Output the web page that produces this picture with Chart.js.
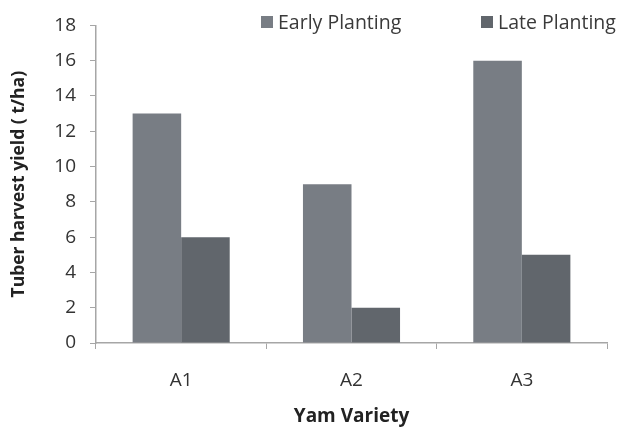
<!DOCTYPE html>
<html>
<head>
<meta charset="utf-8">
<script src="https://cdn.jsdelivr.net/npm/chart.js@4/dist/chart.umd.min.js"></script>
<style>
  html, body { margin: 0; padding: 0; background: #fff; }
  #wrap { width: 623px; height: 428px; }
</style>
</head>
<body>
<div id="wrap"><canvas id="c" width="623" height="428"></canvas></div>
<script>
// Yam varieties and tuber yields (t/ha) for each planting date
const varieties = ['A1', 'A2', 'A3'];
const earlyPlanting = [13, 9, 16];
const latePlanting = [6, 2, 5];
const seriesNames = ['Early Planting', 'Late Planting'];

const FONT = '"Open Sans", Lato, sans-serif';
const AXIS_GREY = '#a6a6a6';

// Legend drawn across the top-right, above the bars
const topLegend = {
  id: 'topLegend',
  afterDraw(chart) {
    const ctx = chart.ctx;
    const spots = [261, 481];
    ctx.save();
    ctx.font = '19.5px ' + FONT;
    ctx.textBaseline = 'middle';
    chart.data.datasets.forEach((ds, i) => {
      const x = spots[i];
      const y = 22;
      ctx.fillStyle = ds.backgroundColor;
      ctx.fillRect(x, y - 6, 12, 12);
      ctx.fillStyle = '#3a3a3a';
      ctx.fillText(ds.label, x + 17, y + 1);
    });
    ctx.restore();
  }
};

new Chart(document.getElementById('c'), {
  type: 'bar',
  data: {
    labels: varieties,
    datasets: [
      { label: seriesNames[0], data: earlyPlanting, backgroundColor: '#787d84' },
      { label: seriesNames[1], data: latePlanting, backgroundColor: '#61666c' }
    ]
  },
  options: {
    responsive: false,
    animation: false,
    devicePixelRatio: 1,
    categoryPercentage: 0.57,
    barPercentage: 1.0,
    layout: { padding: { left: 0, top: 22, right: 16, bottom: 0 } },
    plugins: {
      legend: { display: false },
      tooltip: { enabled: false }
    },
    scales: {
      x: {
        offset: true,
        grid: {
          offset: true,
          drawOnChartArea: false,
          tickLength: 6,
          color: AXIS_GREY
        },
        border: { color: AXIS_GREY, width: 1.5 },
        ticks: {
          padding: 20,
          color: '#333',
          font: { family: FONT, size: 19 }
        },
        title: {
          display: true,
          text: 'Yam Variety',
          color: '#222',
          padding: { top: 4, bottom: 0 },
          font: { family: FONT, size: 19, weight: 'bold' }
        },
        afterFit(scale) { scale.height = 85; }
      },
      y: {
        min: 0,
        max: 18,
        grid: {
          drawOnChartArea: false,
          tickLength: 6,
          color: AXIS_GREY
        },
        border: { color: AXIS_GREY, width: 1.5 },
        ticks: {
          stepSize: 2,
          padding: 14,
          color: '#333',
          font: { family: FONT, size: 19 }
        },
        title: {
          display: true,
          text: 'Tuber harvest yield ( t/ha)',
          color: '#222',
          padding: { top: 9, bottom: 0 },
          font: { family: FONT, size: 17.5, weight: 'bold' }
        },
        afterFit(scale) { scale.width = 96; }
      }
    }
  },
  plugins: [topLegend]
});
</script>
</body>
</html>
